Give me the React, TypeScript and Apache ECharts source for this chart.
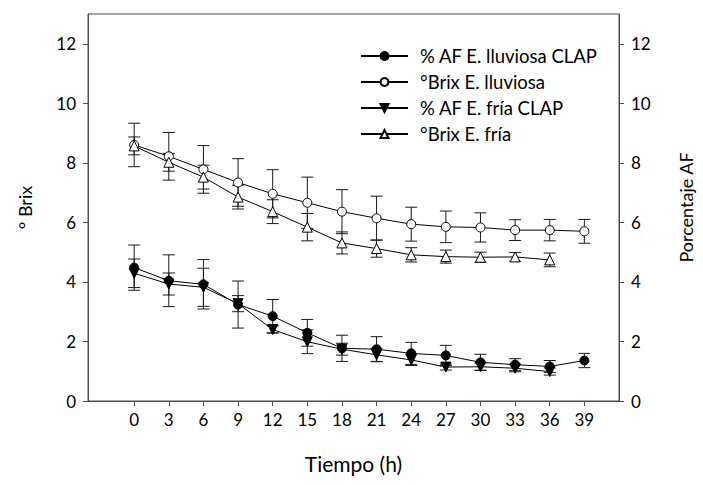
import React, { useEffect, useRef } from "react";
import * as echarts from "echarts";

const hours = [0, 3, 6, 9, 12, 15, 18, 21, 24, 27, 30, 33, 36, 39];
const yTicks = [0, 2, 4, 6, 8, 10, 12];

const afLluviosa = [4.48, 4.04, 3.92, 3.24, 2.85, 2.29, 1.77, 1.74, 1.6, 1.53, 1.3, 1.22, 1.16, 1.36];
const afLluviosaErr = [0.76, 0.87, 0.83, 0.79, 0.56, 0.45, 0.44, 0.42, 0.37, 0.34, 0.27, 0.2, 0.2, 0.24];

const brixLluviosa = [8.6, 8.22, 7.78, 7.34, 6.96, 6.66, 6.36, 6.14, 5.94, 5.85, 5.83, 5.74, 5.74, 5.7];
const brixLluviosaErr = [0.73, 0.8, 0.8, 0.8, 0.81, 0.86, 0.74, 0.74, 0.57, 0.53, 0.49, 0.35, 0.36, 0.4];

const afFria = [4.29, 3.93, 3.82, 3.27, 2.4, 1.99, 1.74, 1.55, 1.38, 1.14, 1.15, 1.1, 0.99];
const afFriaErr = [0.48, 0.37, 0.64, 0.27, 0.12, 0.4, 0.2, 0.22, 0.19, 0.1, 0.12, 0.12, 0.12];

const brixFria = [8.57, 8.02, 7.52, 6.85, 6.36, 5.84, 5.31, 5.12, 4.91, 4.85, 4.83, 4.84, 4.74];
const brixFriaErr = [0.3, 0.3, 0.4, 0.4, 0.4, 0.46, 0.37, 0.29, 0.24, 0.22, 0.17, 0.15, 0.23];

const seriesNames = [
  "% AF E. lluviosa CLAP",
  "°Brix E. lluviosa",
  "% AF E. fría CLAP",
  "°Brix E. fría",
];

const FONT = "Lato";
const AXIS_COLOR = "#4d4d4d";

function pairs(vals: number[]) {
  return vals.map((v, i) => [hours[i], v]);
}
function errData(vals: number[], errs: number[]) {
  return vals.map((v, i) => [hours[i], v - errs[i], v + errs[i]]);
}

const errRender = (params: any, api: any) => {
  const x = api.value(0);
  const lo = api.coord([x, api.value(1)]);
  const hi = api.coord([x, api.value(2)]);
  const w = 6;
  const style = { stroke: "#1a1a1a", lineWidth: 1 };
  return {
    type: "group",
    children: [
      { type: "line", shape: { x1: lo[0], y1: lo[1], x2: hi[0], y2: hi[1] }, style },
      { type: "line", shape: { x1: lo[0] - w, y1: lo[1], x2: lo[0] + w, y2: lo[1] }, style },
      { type: "line", shape: { x1: hi[0] - w, y1: hi[1], x2: hi[0] + w, y2: hi[1] }, style },
    ],
  };
};

export default function App() {
  const ref = useRef<HTMLDivElement>(null);
  useEffect(() => {
    if (!ref.current) return;
    const chart = echarts.init(ref.current, null, { renderer: "svg" });
    const lineCommon = {
      type: "line",
      symbolSize: 9,
      lineStyle: { color: "#000", width: 1 },
      z: 3,
    };
    const errCommon = {
      type: "custom",
      renderItem: errRender,
      encode: { x: 0, y: [1, 2] },
      silent: true,
      z: 2,
    };
    const yAxisCommon = {
      type: "value",
      min: 0,
      max: 13,
      nameLocation: "middle",
      nameTextStyle: { fontFamily: FONT, fontSize: 18, color: "#000" },
      axisLine: { show: true, onZero: false, lineStyle: { color: AXIS_COLOR, width: 1 } },
      axisTick: { show: true, length: 5, inside: false, customValues: yTicks, lineStyle: { color: AXIS_COLOR } },
      axisLabel: { customValues: yTicks, fontFamily: FONT, fontSize: 17, color: "#000", margin: 12 },
      splitLine: { show: false },
    };
    chart.setOption({
      animation: false,
      backgroundColor: "#fff",
      grid: {
        left: 88,
        right: 76,
        top: 14,
        bottom: 84,
        show: true,
        borderColor: AXIS_COLOR,
        borderWidth: 1,
        backgroundColor: "transparent",
      },
      legend: {
        orient: "vertical",
        left: 355,
        top: 41,
        itemWidth: 47,
        itemHeight: 10,
        itemGap: 6,
        data: seriesNames,
        textStyle: { fontFamily: FONT, fontSize: 18.5, color: "#000", lineHeight: 20, padding: [0, 0, 0, 7] },
      },
      xAxis: {
        type: "value",
        min: -4,
        max: 42,
        name: "Tiempo (h)",
        nameLocation: "middle",
        nameGap: 52,
        nameTextStyle: { fontFamily: FONT, fontSize: 21, color: "#000" },
        axisLine: { show: true, onZero: false, lineStyle: { color: AXIS_COLOR, width: 1 } },
        axisTick: { show: true, length: 5, inside: false, customValues: hours, lineStyle: { color: AXIS_COLOR } },
        axisLabel: { customValues: hours, fontFamily: FONT, fontSize: 17, color: "#000", margin: 10 },
        splitLine: { show: false },
      },
      yAxis: [
        { ...yAxisCommon, position: "left", name: "° Brix", nameGap: 54 },
        { ...yAxisCommon, position: "right", name: "Porcentaje AF", nameGap: 58 },
      ],
      series: [
        { ...errCommon, name: "err0", yAxisIndex: 1, data: errData(afLluviosa, afLluviosaErr) },
        { ...errCommon, name: "err1", yAxisIndex: 0, data: errData(brixLluviosa, brixLluviosaErr) },
        { ...errCommon, name: "err2", yAxisIndex: 1, data: errData(afFria, afFriaErr) },
        { ...errCommon, name: "err3", yAxisIndex: 0, data: errData(brixFria, brixFriaErr) },
        {
          ...lineCommon,
          name: seriesNames[0],
          yAxisIndex: 1,
          symbol: "circle",
          itemStyle: { color: "#000", borderColor: "#000", borderWidth: 1 },
          data: pairs(afLluviosa),
        },
        {
          ...lineCommon,
          name: seriesNames[1],
          yAxisIndex: 0,
          symbol: "circle",
          itemStyle: { color: "#fff", borderColor: "#000", borderWidth: 1 },
          data: pairs(brixLluviosa),
        },
        {
          ...lineCommon,
          name: seriesNames[2],
          yAxisIndex: 1,
          symbol: "triangle",
          symbolRotate: 180,
          symbolSize: 10,
          itemStyle: { color: "#000", borderColor: "#000", borderWidth: 1 },
          data: pairs(afFria),
        },
        {
          ...lineCommon,
          name: seriesNames[3],
          yAxisIndex: 0,
          symbol: "triangle",
          symbolSize: 10,
          itemStyle: { color: "#fff", borderColor: "#000", borderWidth: 1 },
          data: pairs(brixFria),
        },
      ],
    });
    return () => chart.dispose();
  }, []);
  return (
    <div
      ref={ref}
      style={{ position: "fixed", left: 0, top: 0, width: 703, height: 485, background: "#fff" }}
    />
  );
}
